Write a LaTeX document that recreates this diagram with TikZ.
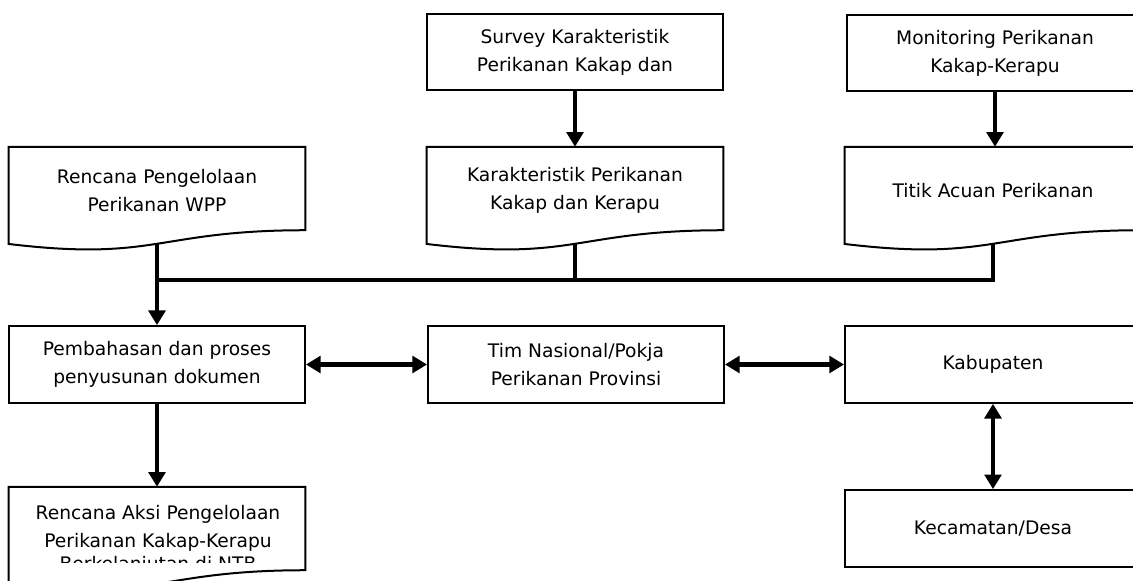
\documentclass[tikz,border=0pt]{standalone}
\usepackage{fontspec}
\setmainfont{DejaVu Sans}
\usetikzlibrary{arrows.meta, positioning}
\tikzstyle{block} = [rectangle, draw=black, line width=1.5pt, minimum width=222pt, minimum height=57.5pt, align=center, inner sep=0pt]
\tikzstyle{doc} = [rectangle, minimum width=222pt, minimum height=65.2pt, align=center, inner sep=0pt]
\tikzstyle{link} = [line width=3.2pt]
\tikzstyle{arrow} = [line width=3.2pt, -{Triangle[width=12.5pt,length=11pt]}]
\tikzstyle{twoway} = [line width=3.2pt, {Triangle[width=12.5pt,length=11pt]}-{Triangle[width=12.5pt,length=11pt]}]

% outline of a document node (wave at the bottom)
\newcommand{\docout}[1]{%
  \draw[line width=1.5pt] (#1.north west) -- (#1.north east) -- ([yshift=3pt]#1.south east)
    .. controls ([yshift=3pt]#1.south) and ([yshift=-20.7pt]#1.south) .. ([yshift=-7.3pt]#1.south west) -- cycle;}

\begin{document}
\begin{tikzpicture}[x=0.75pt, y=-0.75pt, every node/.style={font=\fontsize{14}{21}\selectfont}]
  \useasboundingbox (0,0) rectangle (1133,581);
  \clip (0,0) rectangle (1133,581);

  % Sources
  \node[block] (survey) at (575,52) {Survey Karakteristik\\Perikanan Kakap dan};
  \node[block] (monitor) at (995,53) {Monitoring Perikanan\\Kakap-Kerapu};

  % Documents
  \node[doc] (rencana) at (157,190.5) {Rencana Pengelolaan\\Perikanan WPP};
  \node[doc] (karakter) at (575,190.5) {Karakteristik Perikanan\\Kakap dan Kerapu};
  \node[doc] (titik) at (993,190.5) {Titik Acuan Perikanan};
  \docout{rencana}
  \docout{karakter}
  \docout{titik}

  % Process
  \node[block] (bahas) at (157,364.5) {Pembahasan dan proses\\penyusunan dokumen};
  \node[block] (tim) at (576,364.5) {Tim Nasional/Pokja\\Perikanan Provinsi};
  \node[block] (kab) at (993,364.5) {Kabupaten};
  \node[block] (kec) at (993,528.5) {Kecamatan/Desa};

  % Output document, text cut off as in the source
  \node[doc] (aksi) at (157,530.5) {};
  \docout{aksi}
  \begin{scope}
    \clip (0,470) rectangle (330,562);
    \node[align=center] (aksitext) at (158,540) {Rencana Aksi Pengelolaan\\Perikanan Kakap-Kerapu\\[-4pt]Berkelanjutan di NTB};
  \end{scope}

  % Flows
  \coordinate (bus) at (157,280);
  \draw[arrow] (survey.south) -- (karakter.north);
  \draw[arrow] (monitor.south) -- ([xshift=1.5pt]titik.north);
  \draw[arrow] ([yshift=-7.2pt]rencana.south) -- (bahas.north);
  \draw[link] ([yshift=-7.2pt]titik.south) |- (bus);
  \draw[link] ([yshift=-7.2pt]karakter.south) -- (karakter.south |- bus);
  \draw[twoway] (bahas) -- (tim);
  \draw[twoway] (tim) -- (kab);
  \draw[twoway] (kab) -- (kec);
  \draw[arrow] (bahas) -- (aksi);
\end{tikzpicture}
\end{document}
